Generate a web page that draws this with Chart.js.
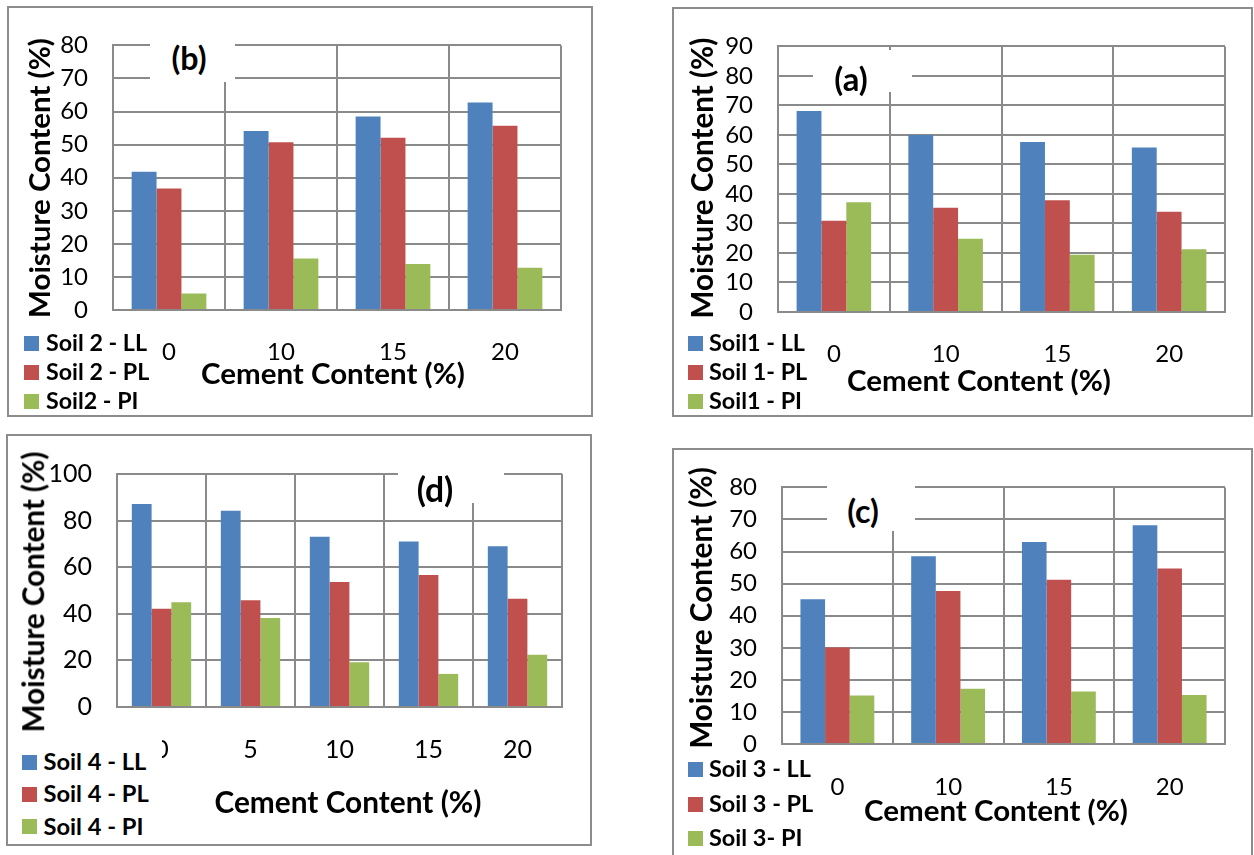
<!DOCTYPE html>
<html><head><meta charset="utf-8">
<script src="https://cdn.jsdelivr.net/npm/chart.js@4.4.0/dist/chart.umd.min.js"></script>
<style>
html,body{margin:0;padding:0;background:#fff;}
body{width:1254px;height:855px;position:relative;overflow:hidden;font-family:Lato,sans-serif;}
canvas{position:absolute;}
.frame{position:absolute;box-sizing:border-box;border:2px solid #8c8c8c;pointer-events:none;}
.txt{position:absolute;white-space:nowrap;font-weight:bold;color:#000;line-height:1;font-family:Lato,sans-serif;}
.wbox{position:absolute;background:#fff;}
.sq{position:absolute;width:15px;height:15px;}
</style></head><body>
<script>
// ---------- DATA ----------
const cementA = ['0', '10', '15', '20'];
const soil1LL = [68.1, 60.0, 57.6, 55.7];
const soil1PL = [30.9, 35.3, 37.9, 34.0];
const soil1PI = [37.2, 24.8, 19.4, 21.3];
const legendA = ['Soil1 - LL', 'Soil 1- PL', 'Soil1 - PI'];

const cementB = ['0', '10', '15', '20'];
const soil2LL = [41.8, 54.1, 58.5, 62.7];
const soil2PL = [36.7, 50.7, 52.1, 55.7];
const soil2PI = [5.0, 15.6, 13.9, 12.8];
const legendB = ['Soil 2 - LL', 'Soil 2 - PL', 'Soil2 - PI'];

const cementC = ['0', '10', '15', '20'];
const soil3LL = [45.1, 58.5, 63.0, 68.2];
const soil3PL = [30.1, 47.7, 51.2, 54.7];
const soil3PI = [15.1, 17.2, 16.4, 15.3];
const legendC = ['Soil 3 - LL', 'Soil 3 - PL', 'Soil 3- PI'];

const cementD = ['0', '5', '10', '15', '20'];
const soil4LL = [87.1, 84.2, 73.1, 71.0, 69.0];
const soil4PL = [42.2, 45.8, 53.6, 56.6, 46.5];
const soil4PI = [45.0, 38.2, 19.2, 14.2, 22.4];
const legendD = ['Soil 4 - LL', 'Soil 4 - PL', 'Soil 4 - PI'];

const yTicksA = {max: 90, step: 10};
const yTicksB = {max: 80, step: 10};
const yTicksC = {max: 80, step: 10};
const yTicksD = {max: 100, step: 20};

const yTitle = 'Moisture Content (%)';
const xTitle = 'Cement Content (%)';

// ---------- STYLE / LAYOUT ----------
const colors = ['#4F81BD', '#C0504D', '#9BBB59'];
const gridColor = '#8a8a8a';
Chart.defaults.font.family = 'Lato, sans-serif';

const panels = [
  {rect:[7,6,586,411], plot:[113,23,561,310], cats:cementB, series:[soil2LL,soil2PL,soil2PI], names:legendB, yt:yTicksB,
   label:'(b)', labelC:[189,58], labelW:35, box:[150,27,235,82], xTitleC:[333,373], xTitleW:264, yTitleC:[39,178], yTitleL:280,
   leg:{sq:24, tx:46, rows:[343,372,401], w:101}, xLabY:352, tick:24},
  {rect:[672,7,581,410], plot:[778,29,1225,312], cats:cementA, series:[soil1LL,soil1PL,soil1PI], names:legendA, yt:yTicksA,
   label:'(a)', labelC:[851,79], labelW:33.5, box:[813,50,912,92], xTitleC:[979,380], xTitleW:264, yTitleC:[702,177.5], yTitleL:281,
   leg:{sq:688, tx:709, rows:[343,372,401], w:96}, xLabY:354, tick:24},
  {rect:[6,434,586,412], plot:[117,452,562,707], cats:cementD, series:[soil4LL,soil4PL,soil4PI], names:legendD, yt:yTicksD,
   label:'(d)', labelC:[435,490], labelW:36.7, box:[398,459,504,503], xTitleC:[348,802], xTitleW:267, yTitleC:[33,592], yTitleL:281,
   leg:{sq:22, tx:43.5, rows:[762,794,826.7], w:103, bg:[12,738,162,842]}, xLabY:750, tick:25},
  {rect:[672,448,581,420], plot:[782,465,1225,744], cats:cementC, series:[soil3LL,soil3PL,soil3PI], names:legendC, yt:yTicksC,
   label:'(c)', labelC:[863,511], labelW:31.7, box:[827,479,915,531], xTitleC:[996,810], xTitleW:264, yTitleC:[701,607.5], yTitleL:281.6,
   leg:{sq:688, tx:709, rows:[769.3,804,838], w:102}, xLabY:787, tick:24}
];

const mctx = document.createElement('canvas').getContext('2d');
function fitSize(text, targetW) {
  mctx.font = 'bold 100px Lato';
  return 100 * targetW / mctx.measureText(text).width;
}
function addText(text, size, left, top, transform) {
  const d = document.createElement('div');
  d.className = 'txt';
  d.textContent = text;
  d.style.fontSize = size + 'px';
  d.style.left = left + 'px';
  d.style.top = top + 'px';
  d.style.transform = transform;
  document.body.appendChild(d);
  return d;
}
function addBox(x1, y1, x2, y2, cls, color) {
  const d = document.createElement('div');
  d.className = cls || 'wbox';
  d.style.left = x1 + 'px'; d.style.top = y1 + 'px';
  d.style.width = (x2 - x1) + 'px'; d.style.height = (y2 - y1) + 'px';
  if (color) d.style.background = color;
  document.body.appendChild(d);
  return d;
}

panels.forEach(p => {
  const [rx, ry, rw, rh] = p.rect;
  const [pl, pt, pr, pb] = p.plot;
  const cv = document.createElement('canvas');
  cv.width = rw; cv.height = rh;
  cv.style.left = rx + 'px'; cv.style.top = ry + 'px';
  cv.style.width = rw + 'px'; cv.style.height = rh + 'px';
  document.body.appendChild(cv);
  const L = pl - rx, T = pt - ry, R = rx + rw - pr, H = ry + rh - pb;
  const lh = p.tick * 1.2;
  new Chart(cv, {
    type: 'bar',
    data: {
      labels: p.cats,
      datasets: p.series.map((vals, i) => ({
        label: p.names[i], data: vals, backgroundColor: colors[i], borderWidth: 0,
        categoryPercentage: 0.667, barPercentage: 1.0
      }))
    },
    options: {
      responsive: false, animation: false, devicePixelRatio: 1,
      layout: {padding: {left: 0, top: T, right: R, bottom: 0}},
      plugins: {legend: {display: false}, tooltip: {enabled: false}},
      scales: {
        x: {
          grid: {color: gridColor, lineWidth: 2, drawTicks: false, offset: true},
          border: {color: gridColor, width: 2},
          ticks: {font: {size: p.tick}, color: '#000', padding: p.xLabY - pb - lh / 2, maxRotation: 0, autoSkip: false},
          afterFit: s => { s.height = H; }
        },
        y: {
          min: 0, max: p.yt.max,
          grid: {color: gridColor, lineWidth: 2, drawTicks: false},
          border: {color: gridColor, width: 2},
          ticks: {stepSize: p.yt.step, font: {size: p.tick}, color: '#000', padding: 25, autoSkip: false},
          afterFit: s => { s.width = L; }
        }
      }
    }
  });
  // label box + label
  addBox(p.box[0], p.box[1], p.box[2], p.box[3]);
  addText(p.label, fitSize(p.label, p.labelW), p.labelC[0], p.labelC[1], 'translate(-50%,-50%)');
  // axis titles
  addText(xTitle, fitSize(xTitle, p.xTitleW), p.xTitleC[0], p.xTitleC[1], 'translate(-50%,-50%)');
  addText(yTitle, fitSize(yTitle, p.yTitleL), p.yTitleC[0], p.yTitleC[1], 'translate(-50%,-50%) rotate(-90deg)');
  // legend
  if (p.leg.bg) addBox(p.leg.bg[0], p.leg.bg[1], p.leg.bg[2], p.leg.bg[3]);
  const ls = fitSize(p.names[0], p.leg.w);
  p.names.forEach((n, i) => {
    const y = p.leg.rows[i];
    addBox(p.leg.sq, y - 7.5, p.leg.sq + 15, y + 7.5, 'sq', colors[i]);
    addText(n, ls, p.leg.tx, y, 'translate(0,-50%)');
  });
  // frame
  addBox(rx, ry, rx + rw, ry + rh, 'frame');
});
</script>
</body></html>
